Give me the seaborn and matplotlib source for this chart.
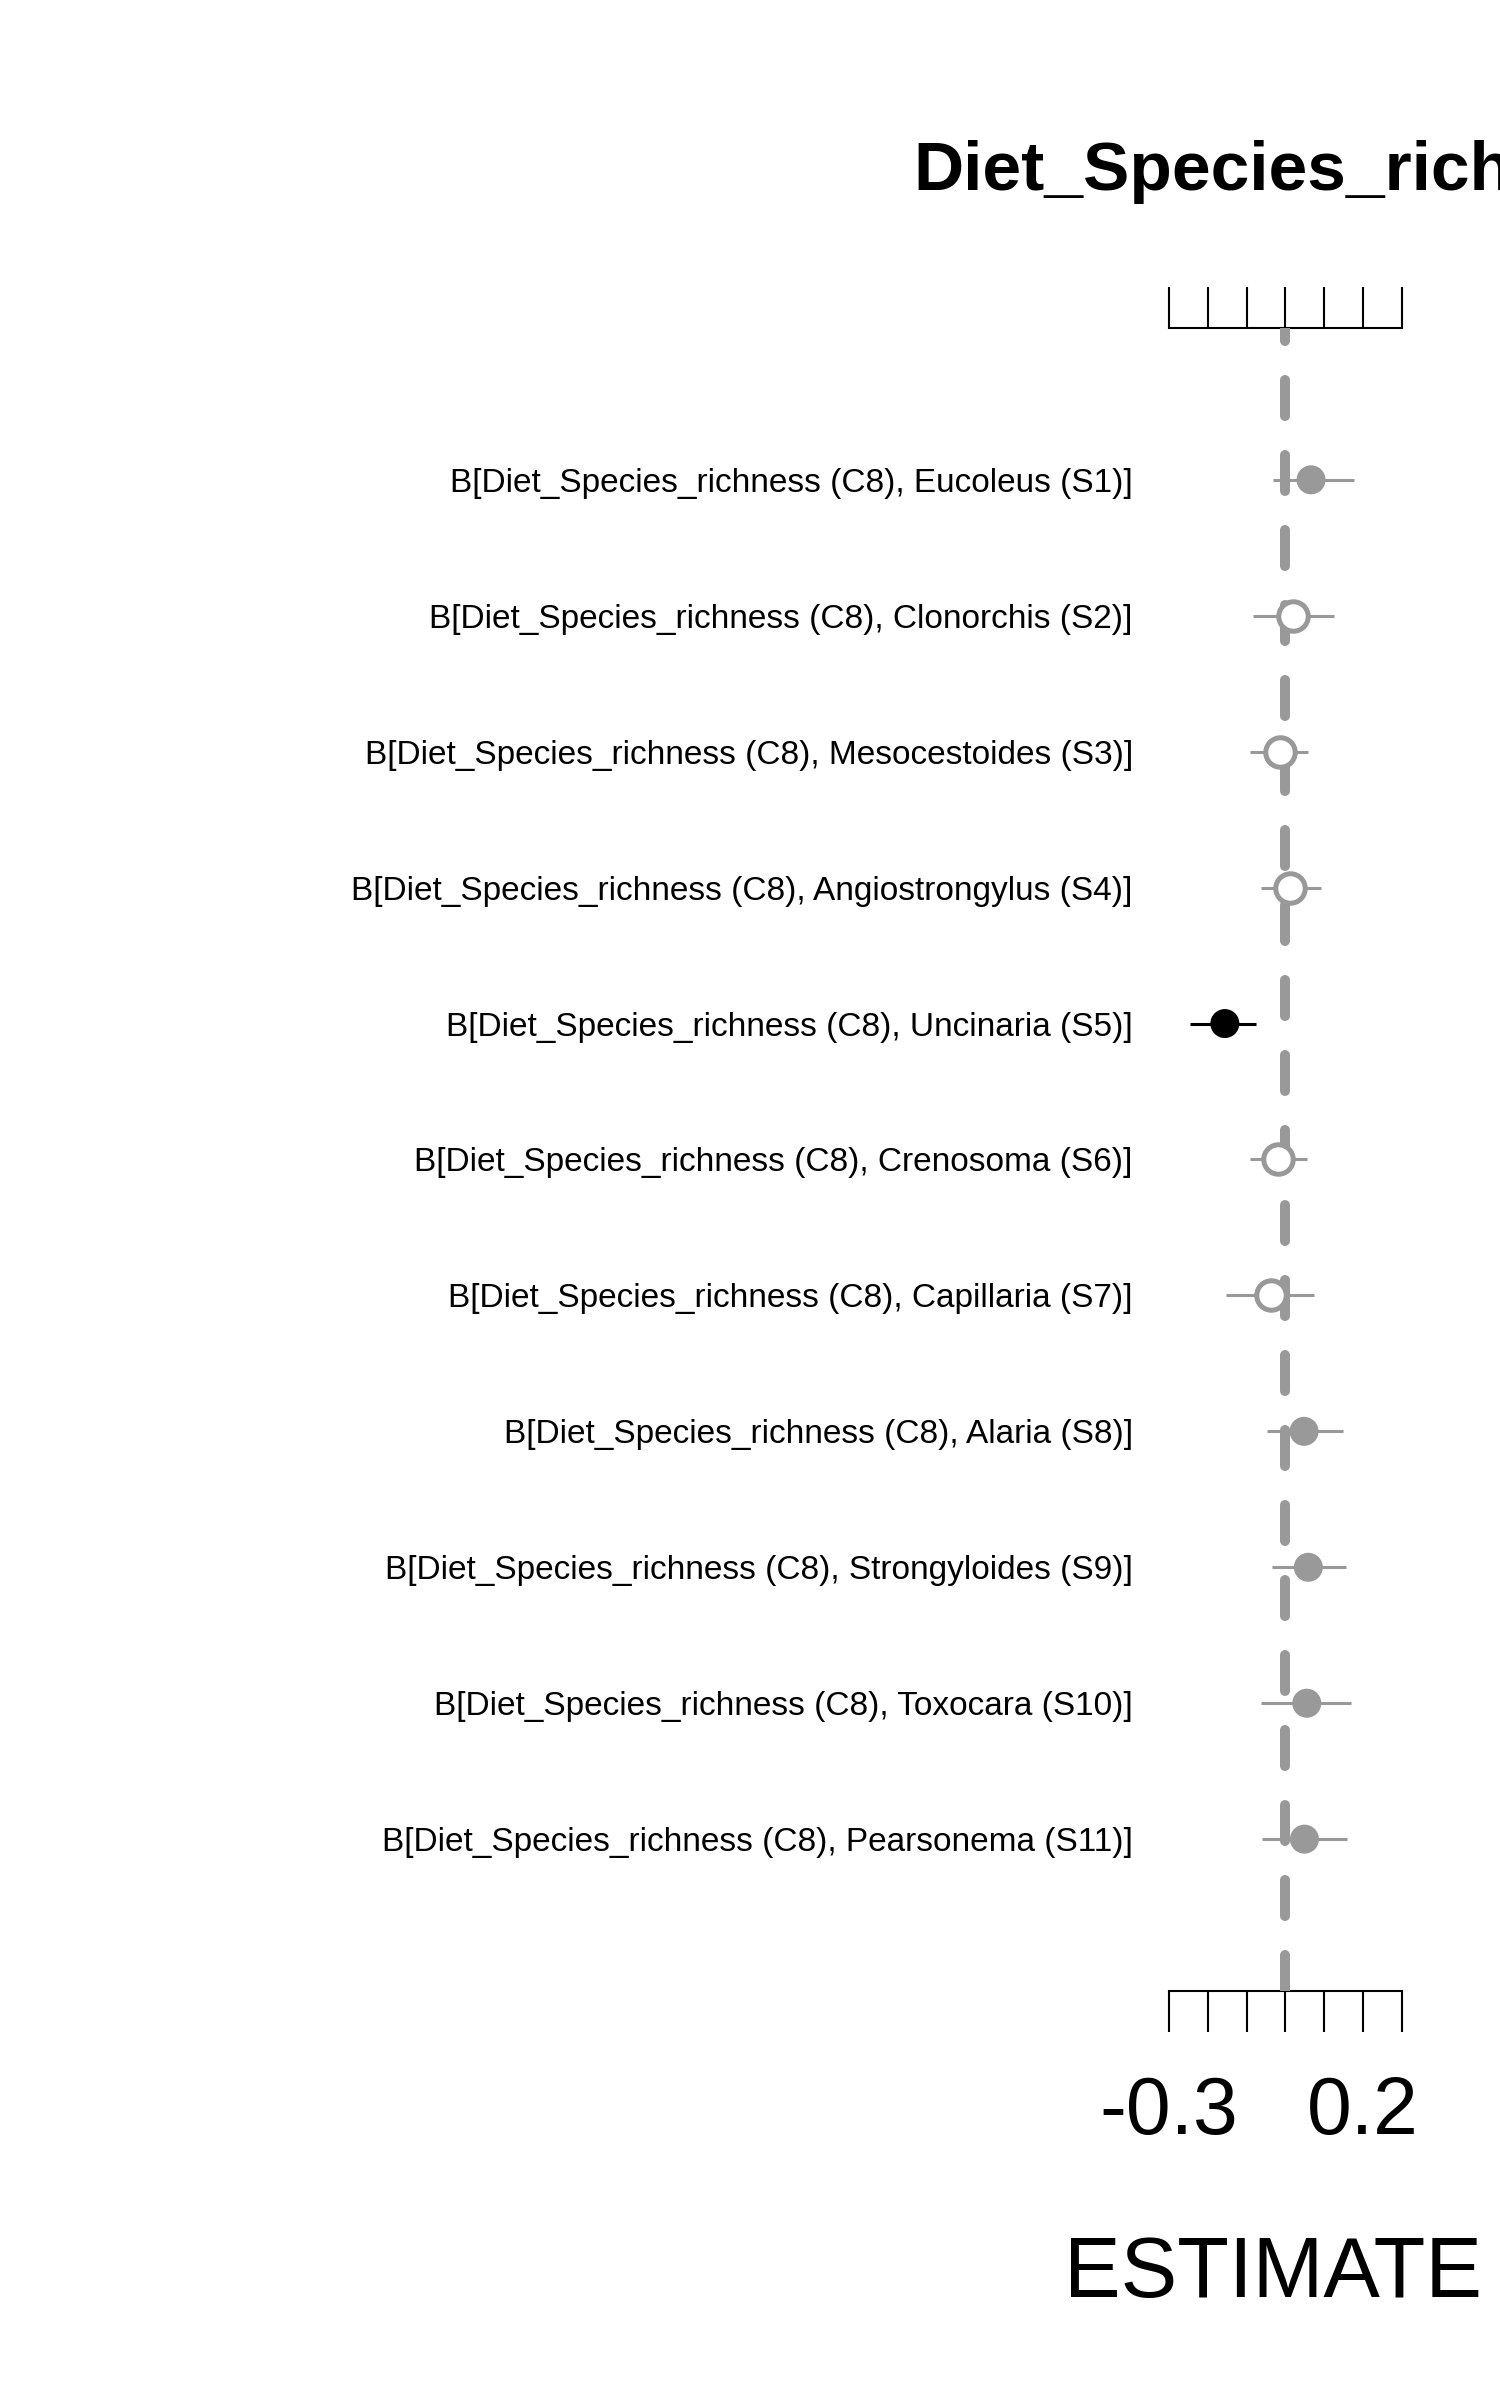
import matplotlib
matplotlib.use("Agg")
import matplotlib.pyplot as plt
import seaborn as sns
import pandas as pd
import numpy as np

# ---- data ----
genera = ["Eucoleus", "Clonorchis", "Mesocestoides", "Angiostrongylus", "Uncinaria",
          "Crenosoma", "Capillaria", "Alaria", "Strongyloides", "Toxocara", "Pearsonema"]
codes = ["S1", "S2", "S3", "S4", "S5", "S6", "S7", "S8", "S9", "S10", "S11"]
estimate = [0.066, 0.020, -0.014, 0.012, -0.156, -0.019, -0.036, 0.048, 0.059, 0.055, 0.049]
lower = [-0.033, -0.083, -0.090, -0.063, -0.247, -0.092, -0.154, -0.047, -0.034, -0.063, -0.060]
upper = [0.177, 0.124, 0.059, 0.091, -0.076, 0.055, 0.074, 0.149, 0.156, 0.168, 0.158]
status = ["pos", "ns", "ns", "ns", "neg", "ns", "ns", "pos", "pos", "pos", "pos"]
xticks = [-0.3, -0.2, -0.1, 0.0, 0.1, 0.2, 0.3]
xticklabels = ["-0.3", "", "", "", "", "0.2", ""]
title = "Diet_Species_richness"
xlabel = "ESTIMATE"

labels = [f"B[Diet_Species_richness (C8), {g} ({c})]" for g, c in zip(genera, codes)]
df = pd.DataFrame({"label": labels, "est": estimate, "lo": lower, "hi": upper,
                   "status": status})
df["pos"] = np.arange(len(df))

GRAY = "#999999"
sns.set_theme(style="white")
plt.rcParams["font.family"] = ["Liberation Sans", "DejaVu Sans"]
plt.rcParams["text.color"] = "black"
plt.rcParams["xtick.color"] = "black"
plt.rcParams["ytick.color"] = "black"
plt.rcParams["axes.labelcolor"] = "black"

fig = plt.figure(figsize=(15, 24), dpi=100)
ax = fig.add_axes([0.7793, 0.17042, 0.1553, 0.69292])

err_colors = {"pos": GRAY, "ns": GRAY, "neg": "black"}
for st, sub in df.groupby("status"):
    ax.hlines(sub["pos"], sub["lo"], sub["hi"], color=err_colors[st], lw=2.2, zorder=2)

ax.axvline(0, color=GRAY, lw=7.2, ls=(0, (3.6, 3.9)), dash_capstyle="round", zorder=3)

filled = df[df.status != "ns"]
sns.scatterplot(data=filled, x="est", y="pos", hue="status",
                palette={"pos": GRAY, "neg": "black"}, s=436, linewidth=0,
                legend=False, ax=ax, zorder=4)
openp = df[df.status == "ns"]
sns.scatterplot(data=openp, x="est", y="pos", s=450, facecolor="white",
                edgecolor=GRAY, linewidth=3.6, legend=False, ax=ax, zorder=4)

ax.set_xlim(-0.3, 0.3)
ax.set_ylim(len(df) - 1 + 1.117, -1.117)
ax.set_xticks(xticks)
ax.set_xticklabels(xticklabels, fontsize=58)
ax.set_yticks(df["pos"])
ax.set_yticklabels(df["label"], fontsize=24)
ax.tick_params(axis="y", length=0, pad=26)
ax.tick_params(axis="x", which="both", top=True, bottom=True, labeltop=False,
               direction="out", length=29.5, width=1.5, color="black", pad=31)
for s in ["left", "right"]:
    ax.spines[s].set_visible(False)
for s in ["top", "bottom"]:
    ax.spines[s].set_visible(True)
    ax.spines[s].set_color("black")
    ax.spines[s].set_linewidth(1.5)
ax.set_xlabel("")
ax.set_ylabel("")

fig.text(913 / 1500, 1 - 190 / 2400, title, fontsize=50, fontweight="bold",
         ha="left", va="baseline")
fig.text(1273 / 1500, 1 - 2297 / 2400, xlabel, fontsize=61, ha="center", va="baseline")

fig.savefig("out.png", dpi=100, facecolor="white")
